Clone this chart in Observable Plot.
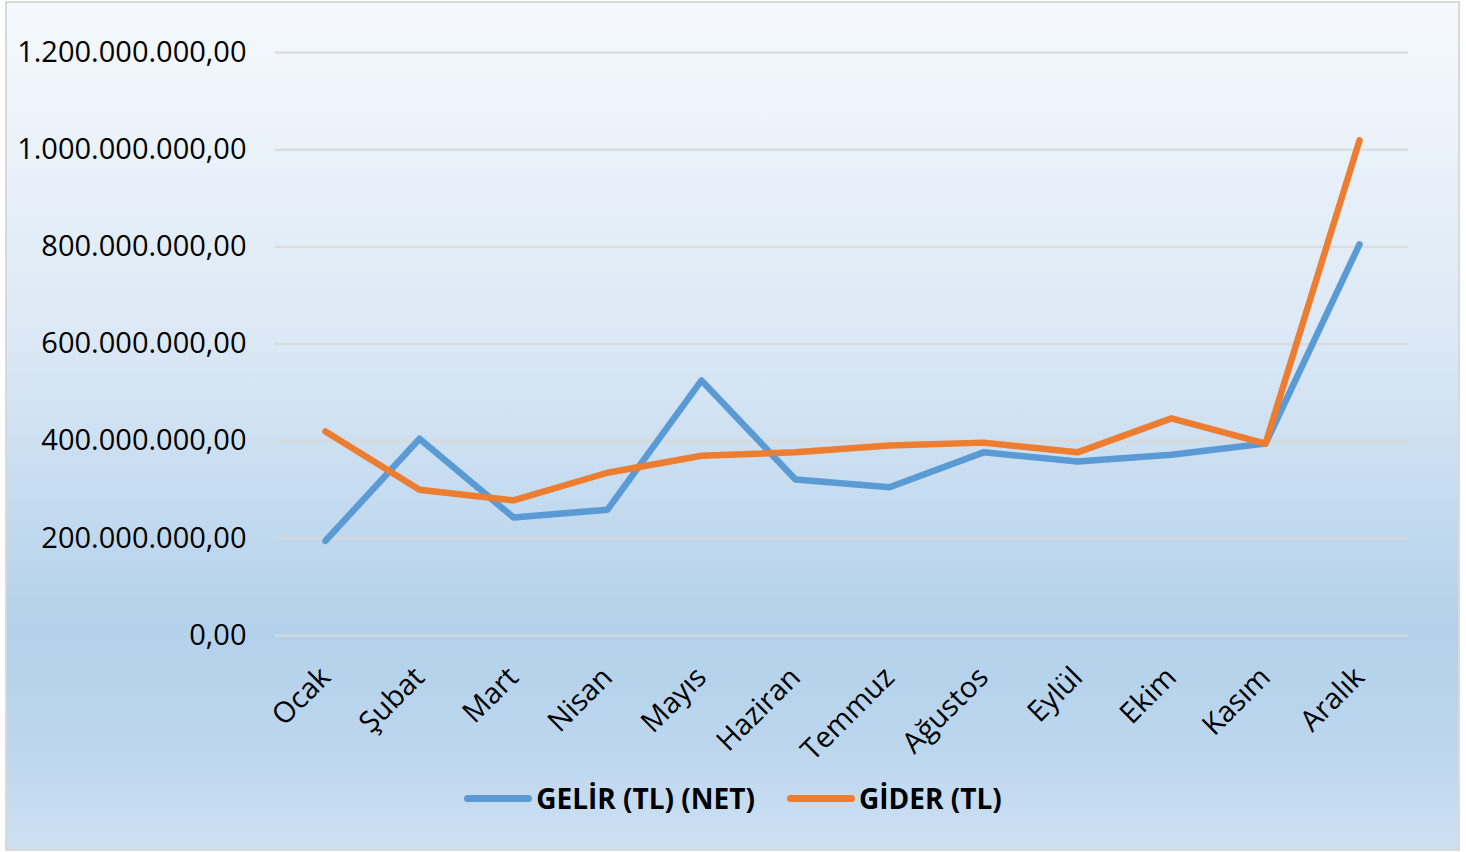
<!DOCTYPE html>
<html>
<head>
<meta charset="utf-8">
<script src="https://cdn.jsdelivr.net/npm/d3@7"></script>
<script src="https://cdn.jsdelivr.net/npm/@observablehq/plot@0.6"></script>
<style>
  html, body { margin: 0; padding: 0; background: #ffffff; }
  #frame {
    position: absolute; left: 5px; top: 1px; width: 1451px; height: 846px;
    border: 2px solid #d9d9d9;
    background: linear-gradient(to bottom, #f5f9fd 0%, #dbe8f5 40%, #b3d1eb 74%, #bcd6ee 88%, #cde0f2 100%);
    overflow: hidden;
  }
  #chart { position: absolute; left: -7px; top: -3px; width: 1466px; }
  #chart svg { max-width: none !important; }
  #legend {
    position: absolute; left: -7px; top: 776px; width: 1466px;
    display: flex; justify-content: center; align-items: center;
    font-family: "Open Sans", sans-serif; font-weight: bold; font-size: 28px; color: #000;
  }
  .item { display: flex; align-items: center; margin: 0 16px; }
  .sw { width: 68px; height: 7px; border-radius: 4px; margin-right: 4px; }
</style>
</head>
<body>
<div id="frame">
  <div id="chart"></div>
  <div id="legend"></div>
</div>
<script>
const months = ["Ocak","Şubat","Mart","Nisan","Mayıs","Haziran","Temmuz","Ağustos","Eylül","Ekim","Kasım","Aralık"];
const gelir = [195e6, 405e6, 243e6, 259e6, 525e6, 321e6, 305e6, 377e6, 358e6, 372e6, 395e6, 805e6];
const gider = [420e6, 300e6, 278e6, 335e6, 370e6, 377e6, 391e6, 397e6, 377e6, 447e6, 395e6, 1019e6];
const seriesNames = ["GELİR (TL) (NET)", "GİDER (TL)"];
const seriesColors = ["#5b9bd5", "#ed7d31"];
const yTicks = [0, 200e6, 400e6, 600e6, 800e6, 1000e6, 1200e6];

const tr = d3.formatLocale({decimal: ",", thousands: ".", grouping: [3], currency: ["₺", ""]});
const fmt = tr.format(",.2f");

const data = [];
months.forEach((m, i) => {
  data.push({month: m, value: gelir[i], series: seriesNames[0]});
  data.push({month: m, value: gider[i], series: seriesNames[1]});
});

const plot = Plot.plot({
  width: 1466,
  height: 780,
  marginLeft: 275,
  marginRight: 58,
  marginTop: 52,
  marginBottom: 145,
  style: {fontFamily: "'Open Sans', sans-serif", fontSize: "29px", color: "#000", background: "transparent", overflow: "visible", maxWidth: "none"},
  x: {type: "point", domain: months, padding: 0.5, label: null, tickSize: 0, tickRotate: -45, tickPadding: 37},
  y: {domain: [0, 1.2e9], ticks: yTicks, tickFormat: fmt, label: null, tickSize: 0, tickPadding: 29},
  color: {domain: seriesNames, range: seriesColors},
  marks: [
    Plot.ruleY(yTicks, {stroke: "#d9d9d9", strokeWidth: 2}),
    Plot.line(data, {x: "month", y: "value", stroke: "series", strokeWidth: 6.5, strokeLinecap: "round", strokeLinejoin: "round"})
  ]
});
document.getElementById("chart").appendChild(plot);

const legend = document.getElementById("legend");
seriesNames.forEach((n, i) => {
  const it = document.createElement("div");
  it.className = "item";
  const sw = document.createElement("div");
  sw.className = "sw";
  sw.style.background = seriesColors[i];
  const t = document.createElement("span");
  t.textContent = n;
  it.appendChild(sw); it.appendChild(t);
  legend.appendChild(it);
});
</script>
</body>
</html>
